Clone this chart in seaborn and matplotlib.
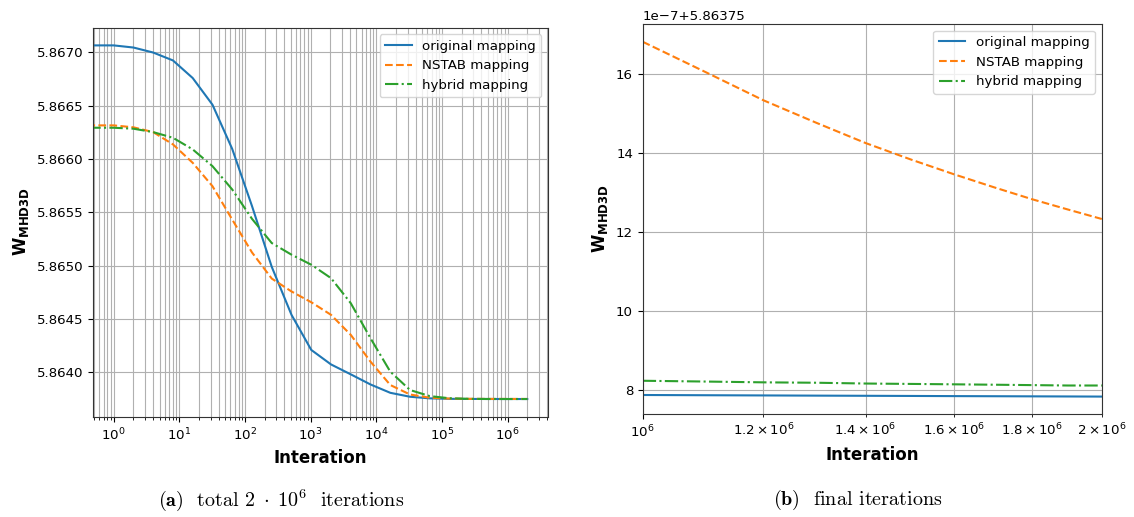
import matplotlib
matplotlib.use("Agg")
import matplotlib.pyplot as plt
import numpy as np
import pandas as pd
import seaborn as sns

# ---- full run: energy sampled at iteration 0 and powers of two, plus the last iteration ----
iterations = [0, 1, 2, 4, 8, 16, 32, 64, 128, 256, 512, 1024, 2048, 4096, 8192,
              16384, 32768, 65536, 131072, 262144, 524288, 1048576, 2000000]

w_original = [5.867066, 5.867066, 5.867046, 5.866999, 5.866925, 5.866760, 5.866510,
              5.866095, 5.865560, 5.864990, 5.864540, 5.864211, 5.864075, 5.863982,
              5.863887, 5.863809, 5.863772, 5.863757, 5.8637525, 5.8637515, 5.8637511,
              5.86375079, 5.86375078]
w_nstab = [5.866316, 5.866316, 5.866298, 5.866253, 5.866138, 5.865965, 5.865746,
           5.865433, 5.865125, 5.864880, 5.864759, 5.864658, 5.864540, 5.864352,
           5.864101, 5.863882, 5.863793, 5.863763, 5.863755, 5.8637525, 5.8637519,
           5.86375168, 5.86375123]
w_hybrid = [5.866294, 5.866294, 5.866285, 5.866253, 5.866200, 5.866091, 5.865934,
            5.865715, 5.865440, 5.865213, 5.865104, 5.865010, 5.864884, 5.864649,
            5.864320, 5.864007, 5.863835, 5.863778, 5.863758, 5.863752, 5.8637509,
            5.86375082, 5.86375081]

# ---- final iterations: values given in units of 1e-7 above the base energy ----
w_base = 5.86375
final_iterations = [1.0e6, 1.1e6, 1.2e6, 1.3e6, 1.4e6, 1.5e6, 1.6e6, 1.7e6, 1.8e6, 1.9e6, 2.0e6]
final_original = [7.880, 7.874, 7.869, 7.864, 7.860, 7.856, 7.852, 7.849, 7.846, 7.843, 7.840]
final_nstab = [16.81, 16.04, 15.33, 14.76, 14.25, 13.83, 13.46, 13.13, 12.83, 12.57, 12.33]
final_hybrid = [8.24, 8.22, 8.20, 8.19, 8.17, 8.16, 8.15, 8.14, 8.13, 8.12, 8.12]

labels = ["original mapping", "NSTAB mapping", "hybrid mapping"]
colors = ["#1f77b4", "#ff7f0e", "#2ca02c"]
styles = ["-", "--", "-."]

plt.rcParams["font.family"] = ["DejaVu Sans"]
plt.rcParams["font.size"] = 9.6

full = pd.DataFrame({"iteration": iterations, labels[0]: w_original,
                     labels[1]: w_nstab, labels[2]: w_hybrid})
final = pd.DataFrame({"iteration": final_iterations,
                      labels[0]: w_base + np.array(final_original) * 1e-7,
                      labels[1]: w_base + np.array(final_nstab) * 1e-7,
                      labels[2]: w_base + np.array(final_hybrid) * 1e-7})

fig = plt.figure(figsize=(11.34, 5.17), dpi=100)
ax_full = fig.add_axes([0.0820, 0.1940, 0.4012, 0.7524])
ax_final = fig.add_axes([0.5668, 0.1986, 0.4048, 0.7549])

for ax, df in ((ax_full, full), (ax_final, final)):
    for lab, col, ls in zip(labels, colors, styles):
        sns.lineplot(data=df, x="iteration", y=lab, ax=ax, color=col,
                     linestyle=ls, linewidth=1.5, label=lab, estimator=None)
    ax.set_xscale("log")
    ax.grid(True, which="both", color="#b0b0b0", linewidth=0.8)
    ax.set_xlabel("Interation", fontsize=12, fontweight="bold")
    ax.set_ylabel(r"$\mathbf{W_{MHD3D}}$", fontsize=12)
    ax.legend(loc="upper right", fontsize=9.6)
    for side in ax.spines.values():
        side.set_color("#333333")

ax_final.set_xlim(1e6, 2e6)

fig.text(0.248, 0.033, r"$\mathbf{(a)}$  total $2\;\cdot\;10^6$  iterations",
         ha="center", va="center", fontsize=14.5, family="cmr10", math_fontfamily="cm")
fig.text(0.756, 0.033, r"$\mathbf{(b)}$  final iterations",
         ha="center", va="center", fontsize=14.5, family="cmr10", math_fontfamily="cm")

fig.savefig("out.png", dpi=100)
